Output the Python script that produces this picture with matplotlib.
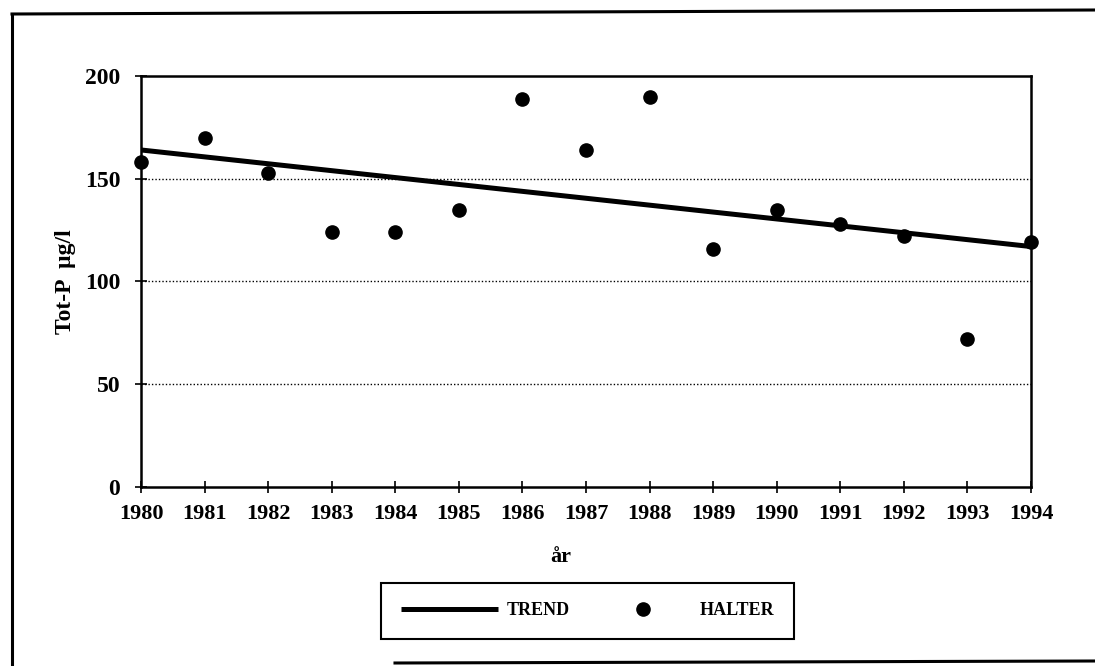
import matplotlib
matplotlib.use("Agg")
import matplotlib.pyplot as plt
from matplotlib.lines import Line2D

years = [1980, 1981, 1982, 1983, 1984, 1985, 1986, 1987, 1988, 1989, 1990, 1991, 1992, 1993, 1994]
halter = [158, 170, 153, 124, 124, 135, 189, 164, 190, 116, 135, 128, 122, 72, 119]
trend_years = [1980, 1994]
trend_values = [164, 117]
yticks = [0, 50, 100, 150, 200]

plt.rcParams['font.family'] = ['Liberation Serif', 'DejaVu Serif']
plt.rcParams['font.weight'] = 'bold'

fig = plt.figure(figsize=(10.95, 6.66), dpi=100)
ax = fig.add_axes([0.1288, 0.2688, 0.8128, 0.6171])

line_trend, = ax.plot(trend_years, trend_values, color='black', lw=3.6, solid_capstyle='butt', zorder=3, label='TREND')
pts, = ax.plot(years, halter, 'o', color='black', markersize=9.5, zorder=4, clip_on=False, label='HALTER')

ax.set_xlim(1980, 1994)
ax.set_ylim(0, 200)
ax.set_xticks(years)
ax.set_xticklabels([str(y) for y in years], fontsize=16, fontweight='bold')
ax.set_yticks(yticks)
ax.set_yticklabels([str(v) for v in yticks], fontsize=17, fontweight='bold')
ax.tick_params(axis='both', direction='inout', length=8, width=1.2, color='black')
ax.tick_params(axis='x', pad=8)
ax.tick_params(axis='y', pad=11)
for s in ax.spines.values():
    s.set_linewidth(1.8)
    s.set_color('black')

for v in [50, 100, 150]:
    ax.axhline(v, color='black', lw=1.0, linestyle=(0, (1, 1.5)), zorder=1)

ax.set_xlabel('år', fontsize=16, fontweight='bold')
ax.xaxis.set_label_coords(0.472, -0.145)
ax.set_ylabel('Tot-P  µg/l', fontsize=17, fontweight='bold', labelpad=6)

leg = fig.legend(handles=[line_trend, pts], labels=['TREND', 'HALTER'],
                 loc='center', bbox_to_anchor=(0.5366, 0.0826), ncol=2,
                 handlelength=5.4, handletextpad=0.45, columnspacing=1.35,
                 borderpad=1.1, frameon=True, fancybox=False, framealpha=1,
                 edgecolor='black', prop={'weight': 'bold', 'size': 13})
leg.get_frame().set_linewidth(1.5)

# outer frame of the scanned figure
fig.add_artist(Line2D([12/1095, 12/1095], [0, 1 - 14/666], transform=fig.transFigure, color='black', lw=2.2))
fig.add_artist(Line2D([12/1095, 1], [1 - 14/666, 1 - 10/666], transform=fig.transFigure, color='black', lw=2.2))
fig.add_artist(Line2D([395/1095, 1], [1 - 663/666, 1 - 661/666], transform=fig.transFigure, color='black', lw=2.2))

fig.savefig('out.png', dpi=100)
